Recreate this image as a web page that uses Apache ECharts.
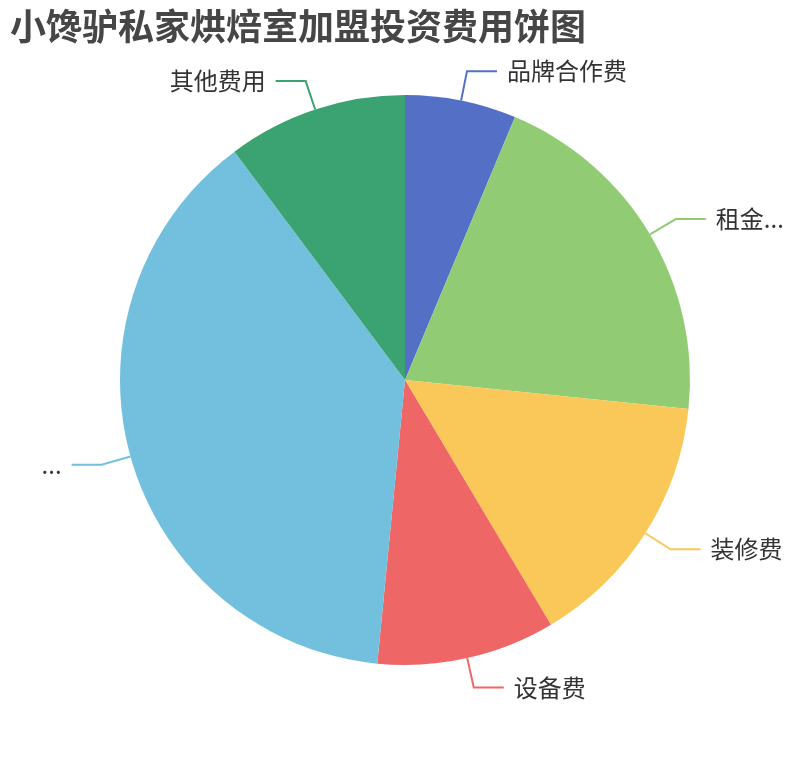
<!DOCTYPE html>
<html>
<head>
<meta charset="utf-8">
<script src="https://cdn.jsdelivr.net/npm/echarts@6/dist/echarts.min.js"></script>
<style>html,body{margin:0;padding:0;background:#fff}#c{width:810px;height:760px}</style>
</head>
<body>
<div id="c"></div>
<script>
const titleText = '小馋驴私家烘焙室加盟投资费用饼图';
const categories = ['品牌合作费', '租金押金费', '装修费', '设备费', '首批原料进货费', '其他费用'];
const values = [6.3, 20.3, 14.8, 10.1, 38.2, 10.2];
const colors = ['#5470c6', '#91cc75', '#fac858', '#ee6666', '#73c0de', '#3ba272'];

const chart = echarts.init(document.getElementById('c'));
chart.setOption({
  animation: false,
  color: colors,
  title: {
    text: titleText,
    left: 5, top: 3,
    textStyle: { fontSize: 36, fontWeight: 'bold', color: '#464646', fontFamily: 'Noto Sans CJK SC' }
  },
  series: [{
    type: 'pie',
    radius: '75%',
    center: ['50%', '50%'],
    startAngle: 90,
    data: categories.map((n, i) => ({ name: n, value: values[i] })),
    label: { show: true, position: 'outside', fontSize: 24, color: '#333', fontFamily: 'Noto Sans CJK SC', distanceToLabelLine: 10, bleedMargin: 20 },
    labelLine: { show: true, length: 30, length2: 30, lineStyle: { width: 2 } },
    itemStyle: { borderWidth: 0 }
  }]
});
</script>
</body>
</html>
